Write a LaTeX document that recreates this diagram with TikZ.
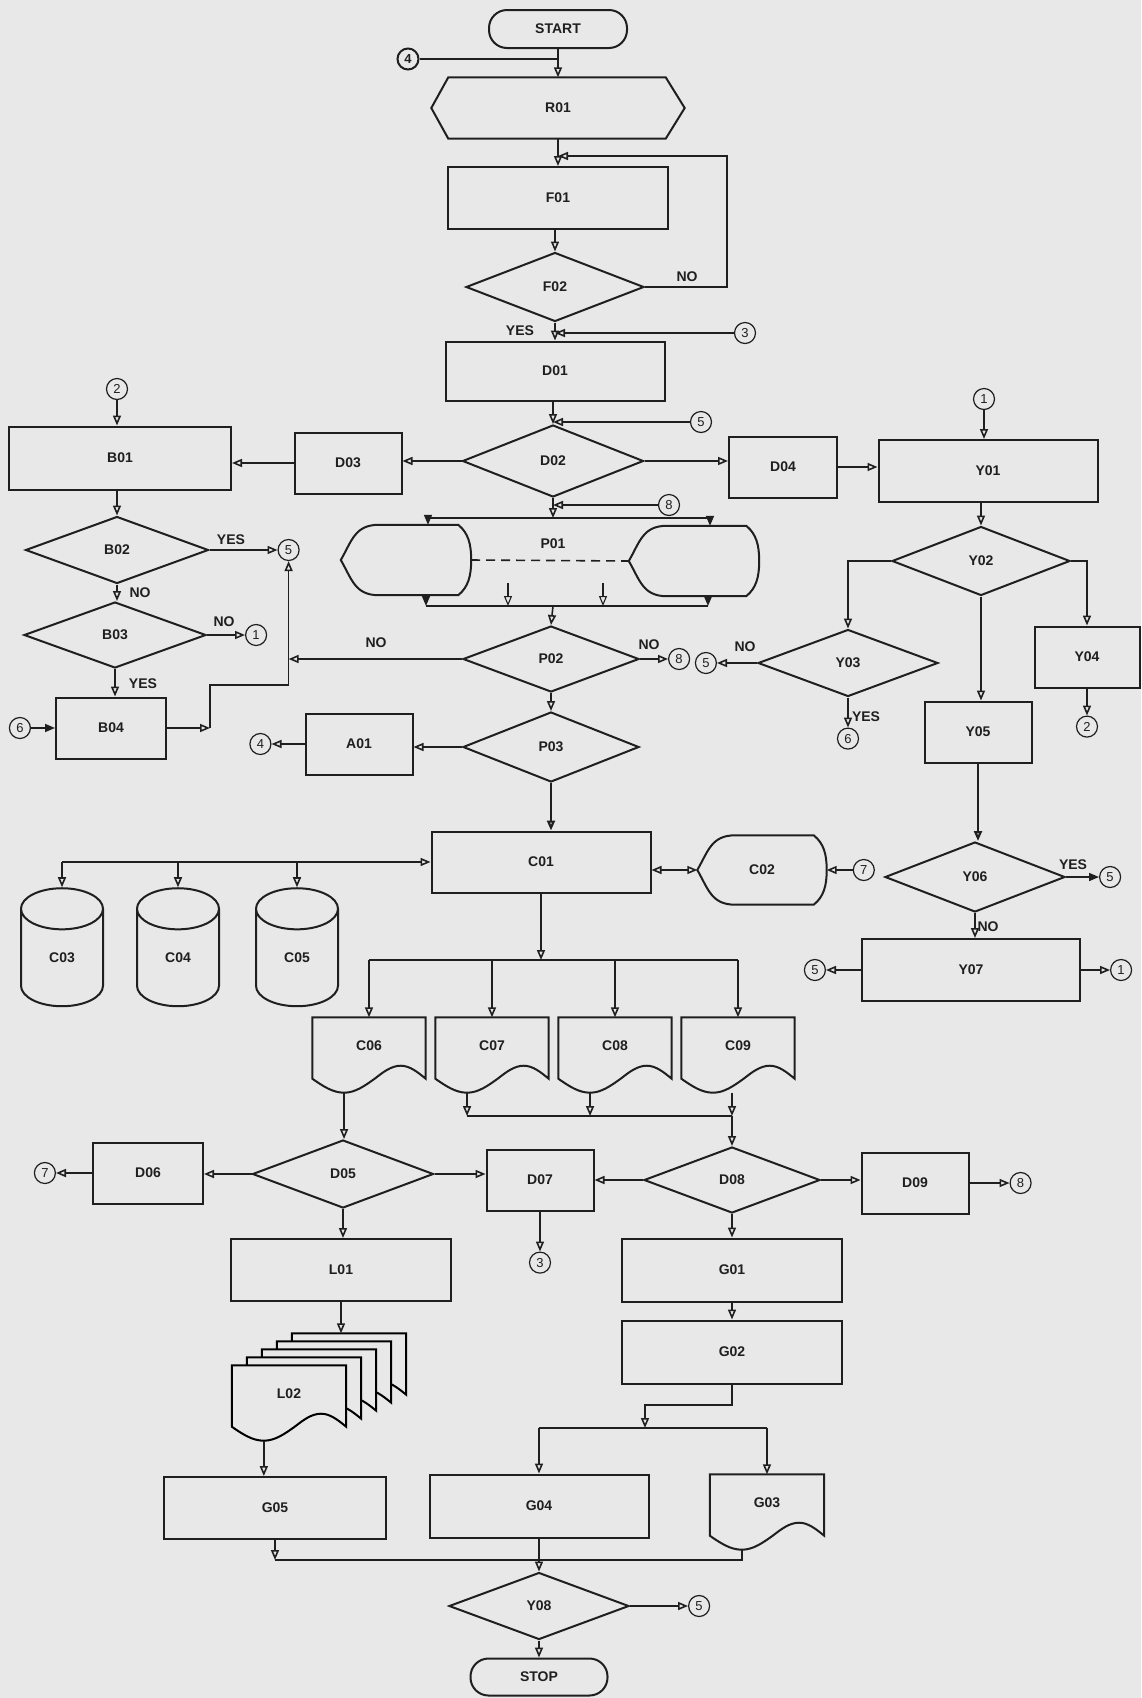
\documentclass[tikz,border=0pt]{standalone}
\usepackage{fontspec}
\setmainfont{Liberation Sans}
\usetikzlibrary{positioning, arrows.meta, shapes.geometric, calc, backgrounds}

\definecolor{paper}{gray}{0.91}
\definecolor{ink}{gray}{0.12}

% printed document, wavy lower edge
\newcommand{\docshape}[1]{(#1.north west) -- (#1.north east) -- ($(#1.south east)+(0,-14)$)
  sin ($(#1.south west)!0.78!(#1.south east)+(0,-27)$)
  cos ($(#1.south west)!0.55!(#1.south east)+(0,-14)$)
  sin ($(#1.south west)!0.28!(#1.south east)$)
  cos ($(#1.south west)+(0,-14)$) -- cycle}
% display symbol
\newcommand{\dispshape}[1]{(#1.west) .. controls ($(#1.west)+(11,-19)$) and ($(#1.north west)+(14,0)$) .. ($(#1.north west)+(38,0)$)
  -- ($(#1.north east)+(-13,0)$) .. controls ($(#1.north east)+(-3,8)$) and ($(#1.east)+(0,-16)$) .. (#1.east)
  .. controls ($(#1.east)+(0,16)$) and ($(#1.south east)+(-3,-8)$) .. ($(#1.south east)+(-13,0)$)
  -- ($(#1.south west)+(38,0)$) .. controls ($(#1.south west)+(14,0)$) and ($(#1.west)+(11,19)$) .. (#1.west) -- cycle}

\begin{document}
\begin{tikzpicture}[
        x=1pt, y=-1pt, color=ink,
        every node/.style={font=\bfseries\fontsize{14}{16}\selectfont},
        rim/.style={line width=2pt},
        box/.style={draw, rim, rectangle, minimum height=61pt, inner sep=0pt},
        bigbox/.style={box, minimum width=220pt},
        smallbox/.style={box, minimum width=107pt},
        dec/.style={draw, rim, diamond, inner sep=0pt, minimum width=180pt, minimum height=68pt},
        term/.style={draw, rim, rectangle, rounded corners=18pt, minimum width=138pt, minimum height=38pt},
        doc/.style={rectangle, inner sep=0pt, minimum width=113pt, minimum height=75pt, text depth=18pt},
        disp/.style={rectangle, inner sep=0pt, minimum width=130pt, minimum height=70pt},
        store/.style={draw, rim, cylinder, shape border rotate=90, aspect=1.6, minimum width=82pt, minimum height=118pt, inner sep=0pt},
        jump/.style={draw, circle, line width=1.2pt, minimum size=21pt, inner sep=0pt, font=\fontsize{13}{13}\selectfont},
        tag/.style={inner sep=1pt},
        wire/.style={line width=1.6pt},
        arrow/.style={wire, -{Triangle[open, length=10pt, width=8pt]}},
        farrow/.style={wire, -{Triangle[length=10pt, width=8pt]}},
        darrow/.style={wire, {Triangle[open, length=10pt, width=8pt]}-{Triangle[open, length=10pt, width=8pt]}}
    ]

    \useasboundingbox (0,0) rectangle (1141,1698);
    \begin{scope}[on background layer]
        \fill[paper] (0,0) rectangle (1141,1698);
    \end{scope}

    % main column
    \node[term] (START) at (558,29) {START};
    \node[jump, line width=2pt, font=\bfseries\fontsize{13}{13}\selectfont] (c4a) at (408,59) {4};
    \node[rectangle, minimum width=253pt, minimum height=61pt] (R01) at (558,108) {R01};
    \node[bigbox, minimum height=62pt] (F01) at (558,198) {F01};
    \node[dec, minimum width=178pt, minimum height=69pt] (F02) at (555,287) {F02};
    \node[tag] (f2no) at (687,277) {NO};
    \node[tag] (f2yes) at (520,331) {YES};
    \node[jump] (c3a) at (745,333) {3};
    \node[bigbox, minimum width=219pt, minimum height=59pt] (D01) at (555,371) {D01};
    \node[jump] (c5a) at (701,422) {5};
    \node[dec, minimum width=181pt, minimum height=72pt] (D02) at (553,461) {D02};
    \node[smallbox] (D03) at (348,463) {D03};
    \node[smallbox, minimum width=108pt] (D04) at (783,467) {D04};
    \node[jump] (c8a) at (669,505) {8};

    % P01
    \node[disp] (P01a) at (406,560) {};
    \node[disp] (P01b) at (694,561) {};
    \node (P01) at (553,544) {P01};
    \coordinate (ptop) at (553,518);
    \coordinate (ptl) at (428,518);
    \coordinate (ptr) at (710,518);
    \coordinate (pbot) at (553,606);
    \coordinate (pbl) at (426,606);
    \coordinate (pbr) at (708,606);
    \coordinate (pa1) at (508,583);
    \coordinate (pa2) at (603,583);

    \node[dec, minimum width=176pt, minimum height=66pt] (P02) at (551,659) {P02};
    \node[tag] (p2nol) at (376,643) {NO};
    \node[tag] (p2nor) at (649,645) {NO};
    \node[jump, right=28pt of P02] (c8b) {8};
    \node[dec, minimum width=176pt, minimum height=70pt] (P03) at (551,747) {P03};
    \node[smallbox] (A01) at (359,744) {A01};
    \node[jump, left=33pt of A01] (c4b) {4};

    % B column
    \node[jump] (c2a) at (117,389) {2};
    \node[bigbox, minimum width=222pt, minimum height=63pt] (B01) at (120,458) {B01};
    \node[dec, minimum width=183pt, minimum height=67pt] (B02) at (117,550) {B02};
    \node[tag] (b2yes) at (231,540) {YES};
    \node[jump, right=68pt of B02] (c5b) {5};
    \node[tag] (b2no) at (140,593) {NO};
    \node[dec, minimum width=182pt, minimum height=66pt] (B03) at (115,635) {B03};
    \node[tag] (b3no) at (224,622) {NO};
    \node[jump, right=38pt of B03] (c1b) {1};
    \node[tag] (b3yes) at (143,684) {YES};
    \node[smallbox, minimum width=110pt] (B04) at (111,728) {B04};
    \node[jump, left=24pt of B04] (c6a) {6};
    \coordinate (b4r) at (210,728);
    \coordinate (b4u) at (210,685);

    % Y column
    \node[jump] (c1a) at (984,399) {1};
    \node[bigbox, minimum width=219pt, minimum height=62pt] (Y01) at (988,471) {Y01};
    \node[dec, minimum width=178pt, minimum height=69pt] (Y02) at (981,561) {Y02};
    \node[dec, minimum height=67pt] (Y03) at (848,663) {Y03};
    \node[tag] (y3no) at (745,647) {NO};
    \node[jump, left=40pt of Y03] (c5c) {5};
    \node[jump, below=30pt of Y03] (c6b) {6};
    \node[tag] (y3yes) at (866,717) {YES};
    \node[smallbox, minimum width=105pt] (Y04) at (1087,657) {Y04};
    \node[jump, below=27pt of Y04] (c2b) {2};
    \node[smallbox] (Y05) at (978,732) {Y05};
    \node[dec, minimum height=70pt] (Y06) at (975,877) {Y06};
    \node[tag] (y6yes) at (1073,865) {YES};
    \node[jump, right=33pt of Y06] (c5d) {5};
    \node[tag] (y6no) at (988,927) {NO};
    \node[bigbox, minimum width=218pt, minimum height=62pt] (Y07) at (971,970) {Y07};
    \node[jump, left=35pt of Y07] (c5e) {5};
    \node[jump, right=29pt of Y07] (c1c) {1};

    % C section
    \node[bigbox, minimum width=219pt] (C01) at (541,862) {C01};
    \node[disp, minimum width=129pt, minimum height=69pt] (C02) at (762,870) {C02};
    \node[jump, right=26pt of C02] (c7a) {7};
    \node[store] (C03) at (62,958) {C03};
    \node[store] (C04) at (178,958) {C04};
    \node[store] (C05) at (297,958) {C05};
    \coordinate (cfork) at (541,960);
    \node[doc] (C06) at (369,1055) {C06};
    \node[doc] (C07) at (492,1055) {C07};
    \node[doc] (C08) at (615,1055) {C08};
    \node[doc] (C09) at (738,1055) {C09};
    \coordinate (cmerge) at (732,1116);

    % lower part
    \node[dec, minimum width=181pt] (D05) at (343,1174) {D05};
    \node[smallbox, minimum width=110pt] (D06) at (148,1173) {D06};
    \node[jump, left=36pt of D06] (c7b) {7};
    \node[smallbox] (D07) at (540,1180) {D07};
    \node[jump, below=40pt of D07] (c3b) {3};
    \node[dec, minimum width=176pt, minimum height=66pt] (D08) at (732,1180) {D08};
    \node[smallbox] (D09) at (915,1183) {D09};
    \node[jump, right=40pt of D09] (c8c) {8};
    \node[bigbox, minimum height=62pt] (L01) at (341,1270) {L01};
    \node[doc, minimum width=114pt] (L02) at (289,1403) {L02};
    \node[bigbox, minimum height=63pt] (G01) at (732,1270) {G01};
    \node[bigbox, minimum height=63pt] (G02) at (732,1352) {G02};
    \coordinate (gbend) at (645,1405);
    \coordinate (gfork) at (645,1428);
    \node[bigbox, minimum width=222pt, minimum height=62pt] (G05) at (275,1508) {G05};
    \node[bigbox, minimum width=219pt, minimum height=63pt] (G04) at (539,1506) {G04};
    \node[doc, minimum width=114pt] (G03) at (767,1512) {G03};
    \coordinate (gmerge) at (539,1560);
    \node[dec, minimum height=67pt] (Y08) at (539,1606) {Y08};
    \node[jump, right=58pt of Y08] (c5f) {5};
    \node[term, minimum width=137pt, minimum height=37pt] (STOP) at (539,1677) {STOP};

    % drawn outlines
    \draw[rim] (R01.west) -- ($(R01.north west)+(17,0)$) -- ($(R01.north east)+(-19,0)$) -- (R01.east)
        -- ($(R01.south east)+(-19,0)$) -- ($(R01.south west)+(17,0)$) -- cycle;
    \foreach \s in {C02,P01a,P01b}
        \draw[rim] \dispshape{\s};
    \foreach \d in {C06,C07,C08,C09,G03}
        \draw[rim] \docshape{\d};
    \begin{scope}[on background layer]
        \begin{scope}
            \clip ($(L02.north west)+(-20,0)$) rectangle ($(L02.north east)+(120,-60)$)
                  (L02.north east) rectangle ($(L02.south east)+(120,0)$);
            \foreach \k in {4,3,2,1}
                \draw[rim, fill=paper, transform canvas={xshift=15*\k pt, yshift=8*\k pt}] \docshape{L02};
        \end{scope}
        \draw[rim, fill=paper] \docshape{L02};
    \end{scope}
    \coordinate (C06low) at ($(C06.south west)!0.28!(C06.south east)$);
    \coordinate (C07low) at ($(C07.south west)!0.28!(C07.south east)$);
    \coordinate (C08low) at ($(C08.south west)!0.28!(C08.south east)$);
    \coordinate (L02low) at ($(L02.south west)!0.28!(L02.south east)$);
    \coordinate (G03low) at ($(G03.south west)!0.28!(G03.south east)$);
    \coordinate (L02back) at ($(L02.north)+(0,-32)$);

    % connectors
    \draw[arrow] (START) -- (R01);
    \draw[wire] (c4a) -- (c4a -| START.south);
    \draw[arrow] (R01) -- (F01);
    \draw[arrow] (F01.south -| F02.north) -- (F02.north);
    \coordinate (f2loop) at (727,156);
    \draw[arrow] (F02.east) -| (f2loop) -- (f2loop -| F01.north);
    \draw[arrow] (F02.south) -- (D01.north);
    \draw[arrow] (c3a) -- (c3a -| D01.north);
    \draw[arrow] (D01.south -| D02.north) -- (D02.north);
    \draw[arrow] (c5a) -- (c5a -| D02.north);
    \draw[arrow] (D02.west) -- (D02.west -| D03.east);
    \draw[arrow] (D03.west) -- (D03.west -| B01.east);
    \draw[arrow] (c2a) -- (c2a |- B01.north);
    \draw[arrow] (D02.east) -- (D02.east -| D04.west);
    \draw[arrow] (D04.east) -- (D04.east -| Y01.west);
    \draw[arrow] (c1a) -- (c1a |- Y01.north);

    \draw[arrow] (D02.south) -- (ptop);
    \draw[arrow] (c8a) -- (c8a -| ptop);
    \draw[wire] (ptl) -- (ptr);
    \draw[farrow] (ptl) -- (ptl |- P01a.north);
    \draw[farrow] (ptr) -- (ptr |- P01b.north);
    \draw[farrow] (pbl |- P01a.south) -- (pbl);
    \draw[farrow] (pbr |- P01b.south) -- (pbr);
    \draw[wire] (pbl) -- (pbr);
    \draw[arrow, line width=1.1pt] (pa1) -- (pa1 |- pbot);
    \draw[arrow, line width=1.1pt] (pa2) -- (pa2 |- pbot);
    \draw[wire, dash pattern=on 9pt off 6pt] (P01a.east) -- (P01b.west);
    \draw[arrow] (pbot) -- (P02.north);

    \draw[arrow] (P02.west) -- (P02.west -| c5b);
    \draw[arrow] (P02.east) -- (c8b);
    \draw[arrow] (P02.south) -- (P03.north);
    \draw[arrow] (P03.west) -- (P03.west -| A01.east);
    \draw[arrow] (A01.west) -- (c4b);
    \draw[arrow, line width=2.2pt] (P03.south) -- (P03.south |- C01.north);

    \draw[arrow] (B01.south -| B02.north) -- (B02.north);
    \draw[arrow] (B02.east) -- (c5b);
    \draw[arrow] (B02.south) -- (B02.south |- B03.north);
    \draw[arrow] (B03.east) -- (c1b);
    \draw[arrow] (B03.south) -- (B03.south |- B04.north);
    \draw[farrow] (c6a) -- (B04.west);
    \draw[arrow] (B04.east) -- (b4r);
    \draw[arrow] (b4r) -- (b4u) -| (c5b.south);

    \draw[arrow] (Y01.south -| Y02.north) -- (Y02.north);
    \draw[arrow] (Y02.west) -| (Y03.north);
    \draw[arrow] (Y02.east) -| (Y04.north);
    \draw[arrow] (Y02.south) -- (Y02.south |- Y05.north);
    \draw[arrow] (Y03.west) -- (c5c);
    \draw[arrow] (Y03.south) -- (c6b.north);
    \draw[arrow] (Y04.south) -- (c2b.north);
    \draw[arrow, line width=2.2pt] (Y05.south) -- (Y05.south |- Y06.north);
    \draw[farrow] (Y06.east) -- (c5d);
    \draw[arrow] (Y06.south) -- (Y06.south |- Y07.north);
    \draw[arrow] (Y07.west) -- (c5e);
    \draw[arrow] (Y07.east) -- (c1c);

    \draw[darrow] (C01.east |- C02.west) -- (C02.west);
    \draw[arrow] (c7a) -- (C02.east);
    \draw[arrow] (C03.north |- C01.west) -- (C01.west);
    \foreach \s in {C03,C04,C05}
        \draw[arrow] (\s.north |- C01.west) -- (\s.north);
    \draw[arrow] (C01.south) -- (cfork);
    \draw[wire] (C06.north |- cfork) -- (C09.north |- cfork);
    \foreach \d in {C06,C07,C08,C09}
        \draw[arrow] (\d.north |- cfork) -- (\d.north);

    \draw[arrow] (C06low) -- (C06low |- D05.north);
    \draw[arrow] (C07low) -- (C07low |- cmerge);
    \draw[arrow] (C08low) -- (C08low |- cmerge);
    \draw[wire] (C07low |- cmerge) -- (cmerge);
    \draw[arrow] (C09.south -| cmerge) -- (cmerge);
    \draw[arrow] (cmerge) -- (D08.north);

    \draw[arrow] (D05.west) -- (D05.west -| D06.east);
    \draw[arrow] (D06.west) -- (c7b);
    \draw[arrow] (D05.east) -- (D05.east -| D07.west);
    \draw[arrow] (D07.south) -- (c3b.north);
    \draw[arrow] (D08.west) -- (D08.west -| D07.east);
    \draw[arrow] (D08.east) -- (D08.east -| D09.west);
    \draw[arrow] (D09.east) -- (c8c);
    \draw[arrow] (D08.south) -- (G01.north);
    \draw[arrow] (G01) -- (G02);
    \draw[arrow] (D05.south) -- (D05.south |- L01.north);
    \draw[arrow] (L01.south) -- (L01.south |- L02back);
    \draw[arrow] (L02low) -- (L02low |- G05.north);

    \draw[arrow] (G02.south) |- (gbend) -- (gfork);
    \draw[wire] (G04.north |- gfork) -- (G03.north |- gfork);
    \draw[arrow] (G04.north |- gfork) -- (G04.north);
    \draw[arrow] (G03.north |- gfork) -- (G03.north);
    \draw[arrow] (G05.south) -- (G05.south |- gmerge);
    \draw[wire] (G05.south |- gmerge) -- (G03low |- gmerge) -- (G03low);
    \draw[arrow] (G04.south) -- (Y08.north);
    \draw[arrow] (Y08.east) -- (c5f);
    \draw[arrow] (Y08.south) -- (STOP.north);

\end{tikzpicture}
\end{document}
